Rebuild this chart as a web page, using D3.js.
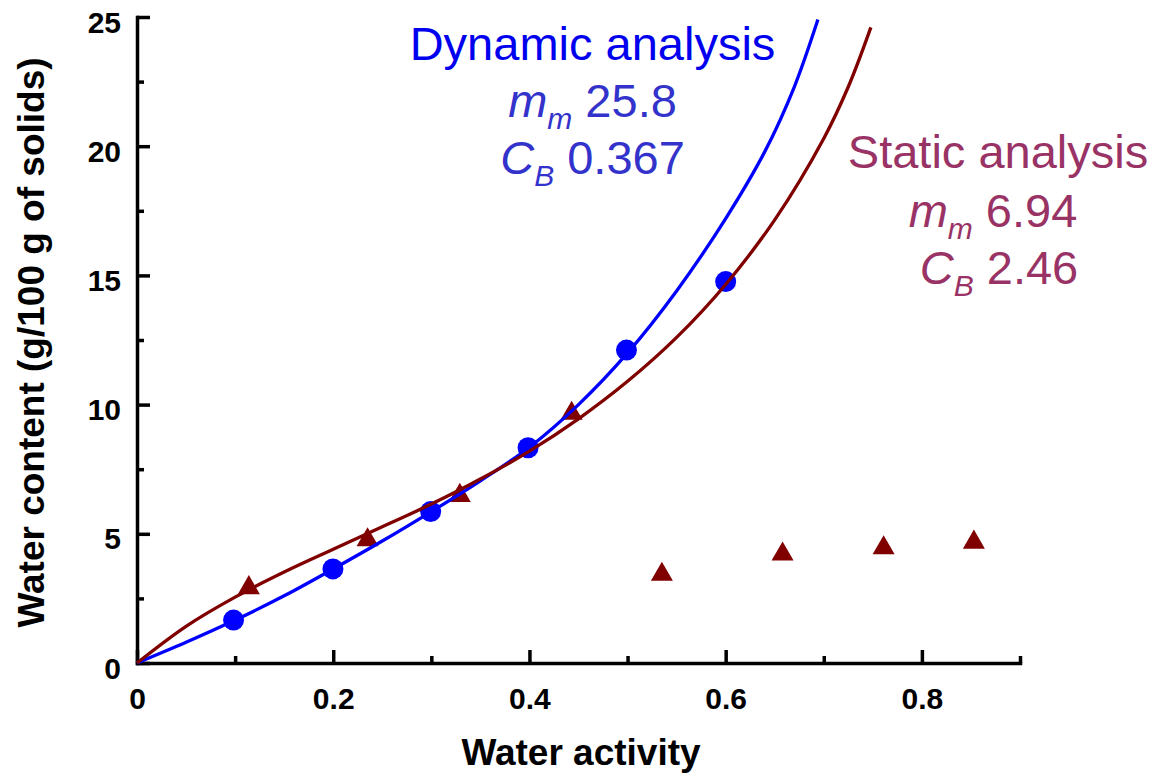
<!DOCTYPE html>
<html>
<head>
<meta charset="utf-8">
<script src="https://cdn.jsdelivr.net/npm/d3@7"></script>
<style>
  html, body { margin: 0; padding: 0; background: #fff; }
  svg { display: block; font-family: "Liberation Sans", Arial, Helvetica, sans-serif; }
</style>
</head>
<body>
<svg id="chart" width="1155" height="777"></svg>
<script>
// ---- data ----
const xTickValues = [0, 0.2, 0.4, 0.6, 0.8];
const xTickLabels = ["0", "0.2", "0.4", "0.6", "0.8"];
const xMinorValues = [0.1, 0.3, 0.5, 0.7, 0.9];
const yTickValues = [0, 5, 10, 15, 20, 25];
const yTickLabels = ["0", "5", "10", "15", "20", "25"];
const yMinorValues = [2.5, 7.5, 12.5, 17.5, 22.5];

// Dynamic analysis points (circles)
const dynA = [0.0984, 0.1997, 0.2993, 0.3986, 0.4989, 0.600];
const dynM = [1.66, 3.64, 5.86, 8.33, 12.11, 14.76];
// Static analysis points (triangles)
const statA = [0.114, 0.235, 0.329, 0.443, 0.535, 0.658, 0.761, 0.853];
const statM = [2.91, 4.76, 6.48, 9.66, 3.43, 4.21, 4.45, 4.67];

// Fitted curves
const dynCurveA = [0, 0.05, 0.1, 0.15, 0.2, 0.25, 0.3, 0.35, 0.4, 0.45, 0.5, 0.55, 0.6, 0.64, 0.67, 0.694];
const dynCurveM = [0, 0.8, 1.66, 2.6, 3.64, 4.72, 5.86, 7.05, 8.35, 10.0, 12.0, 14.4, 17.2, 19.8, 22.3, 24.9];
const statCurveA = [0, 0.05, 0.1, 0.15, 0.2, 0.25, 0.3, 0.35, 0.4, 0.45, 0.5, 0.55, 0.6, 0.65, 0.7, 0.725, 0.748];
const statCurveM = [0, 1.42, 2.55, 3.52, 4.4, 5.27, 6.15, 7.12, 8.2, 9.45, 10.9, 12.6, 14.65, 17.15, 20.3, 22.3, 24.6];

const xTitle = "Water activity";
const yTitle = "Water content (g/100 g of solids)";

// ---- chart ----
const svg = d3.select("#chart");
const x = d3.scaleLinear().domain([0, 0.9]).range([137, 1020]);
const y = d3.scaleLinear().domain([0, 25]).range([663, 17]);

const axisW = 3.5;

// minor ticks
const gxMinor = svg.append("g").attr("transform", `translate(0,${y(0)})`)
  .call(d3.axisBottom(x).tickValues(xMinorValues).tickSize(-7).tickSizeOuter(0).tickFormat(""));
const gyMinor = svg.append("g").attr("transform", `translate(${x(0)},0)`)
  .call(d3.axisLeft(y).tickValues(yMinorValues).tickSize(-7).tickSizeOuter(0).tickFormat(""));

// major axes
const gx = svg.append("g").attr("transform", `translate(0,${y(0)})`)
  .call(d3.axisBottom(x).tickValues(xTickValues).tickSize(-13).tickSizeOuter(0).tickPadding(25)
    .tickFormat((d, i) => xTickLabels[i]));
const gy = svg.append("g").attr("transform", `translate(${x(0)},0)`)
  .call(d3.axisLeft(y).tickValues(yTickValues).tickSize(-13).tickSizeOuter(0).tickPadding(16)
    .tickFormat((d, i) => yTickLabels[i]));

[gxMinor, gyMinor, gx, gy].forEach(g => {
  g.selectAll("path.domain").attr("stroke", "#000").attr("stroke-width", axisW).attr("stroke-linecap", "square");
  g.selectAll(".tick line").attr("stroke", "#000").attr("stroke-width", axisW);
});
[gxMinor, gyMinor].forEach(g => g.select("path.domain").remove());

gx.selectAll(".tick text").attr("font-size", 30).attr("font-weight", "bold")
  .attr("font-family", "Liberation Sans, Arial, sans-serif").attr("fill", "#000");
gy.selectAll(".tick text").attr("font-size", 30).attr("font-weight", "bold")
  .attr("font-family", "Liberation Sans, Arial, sans-serif").attr("fill", "#000").attr("dy", "0.5em");

// axis titles
svg.append("text").attr("x", 581).attr("y", 765).attr("text-anchor", "middle")
  .attr("font-size", 37).attr("font-weight", "bold").text(xTitle);
svg.append("text").attr("transform", "translate(44,342.5) rotate(-90)").attr("text-anchor", "middle")
  .attr("font-size", 37).attr("font-weight", "bold").text(yTitle);

// markers
const dynPts = dynA.map((a, i) => [a, dynM[i]]);
const statPts = statA.map((a, i) => [a, statM[i]]);

svg.append("g").selectAll("circle").data(dynPts).join("circle")
  .attr("cx", d => x(d[0])).attr("cy", d => y(d[1])).attr("r", 10.5).attr("fill", "#0000ff");

const tri = d3.symbol().type(d3.symbolTriangle).size(210);
svg.append("g").selectAll("path").data(statPts).join("path")
  .attr("transform", d => `translate(${x(d[0])},${y(d[1])})`).attr("d", tri).attr("fill", "#800000");

// curves
const line = d3.line().x(d => x(d[0])).y(d => y(d[1])).curve(d3.curveCatmullRom.alpha(0.5));
const dynCurve = dynCurveA.map((a, i) => [a, dynCurveM[i]]);
const statCurve = statCurveA.map((a, i) => [a, statCurveM[i]]);
svg.append("path").datum(dynCurve).attr("d", line).attr("fill", "none")
  .attr("stroke", "#0000ff").attr("stroke-width", 3.3);
svg.append("path").datum(statCurve).attr("d", line).attr("fill", "none")
  .attr("stroke", "#800000").attr("stroke-width", 3.3);

// annotations
function annot(cx, baseY, sym, sub, val, color) {
  const t = svg.append("text").attr("x", cx).attr("y", baseY).attr("text-anchor", "middle")
    .attr("font-size", 47).attr("fill", color);
  t.append("tspan").attr("font-style", "italic").text(sym);
  t.append("tspan").attr("font-style", "italic").attr("font-size", 30).attr("dy", 12).text(sub);
  t.append("tspan").attr("dy", -12).text("\u00a0" + val);
}
svg.append("text").attr("x", 592.5).attr("y", 60).attr("text-anchor", "middle")
  .attr("font-size", 47).attr("fill", "#0000ee").text("Dynamic analysis");
annot(592.5, 117, "m", "m", "25.8", "#3333cc");
annot(592.5, 174, "C", "B", "0.367", "#3333cc");

svg.append("text").attr("x", 998).attr("y", 168).attr("text-anchor", "middle")
  .attr("font-size", 47).attr("fill", "#993366").text("Static analysis");
annot(993, 227, "m", "m", "6.94", "#993366");
annot(999, 284, "C", "B", "2.46", "#993366");
</script>
</body>
</html>
